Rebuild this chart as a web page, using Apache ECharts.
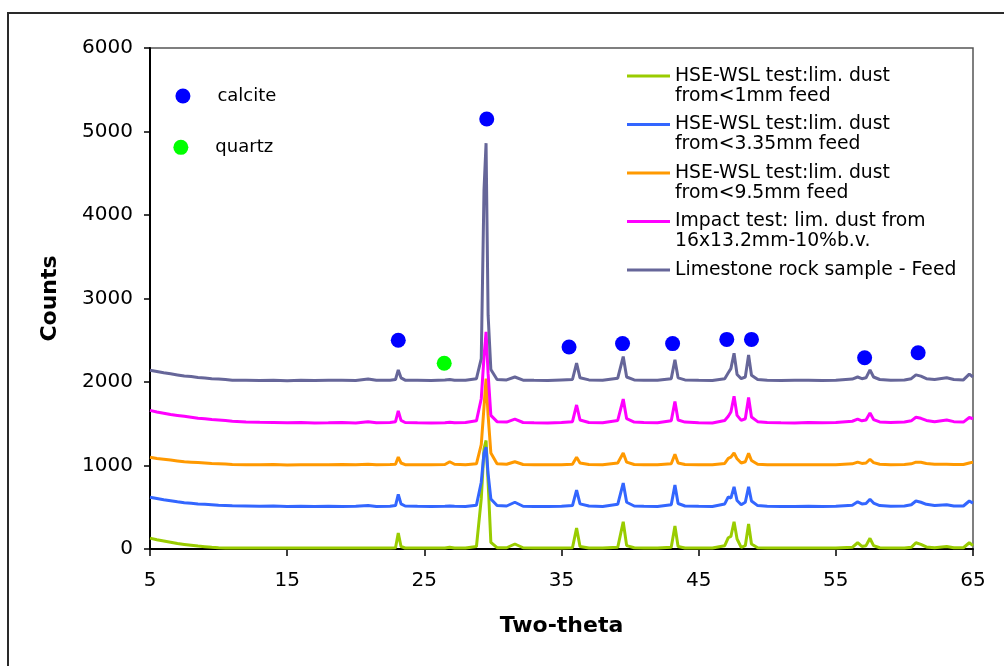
<!DOCTYPE html>
<html>
<head>
<meta charset="utf-8">
<script src="https://cdn.jsdelivr.net/npm/echarts@6/dist/echarts.min.js"></script>
<style>
html,body{margin:0;padding:0;background:#fff;}
#chart{width:1004px;height:666px;}
</style>
</head>
<body>
<div id="chart"></div>
<script>
// Two-theta sample positions (shared by all patterns)
var twoTheta = [
  5, 5.5, 6, 6.5, 7, 7.5, 8, 8.5, 9, 9.5,
  10, 10.5, 11, 12, 13, 14, 15, 16, 17, 18,
  19, 20, 20.9, 21.5, 22.5, 22.9, 23.1, 23.3, 23.6, 24.5,
  25.5, 26.5, 26.85, 27.2, 28, 28.8, 29.15, 29.35, 29.5, 29.65,
  29.85, 30.3, 31.0, 31.6, 32.2, 33, 34, 35, 35.8, 36.1,
  36.35, 37, 38, 39.1, 39.5, 39.75, 40.3, 41, 42, 43.0,
  43.27, 43.5, 44, 45, 46, 46.9, 47.16, 47.35, 47.58, 47.8,
  48.1, 48.4, 48.64, 48.85, 49.3, 50, 51, 52, 53, 54,
  55, 56.2, 56.59, 56.9, 57.2, 57.49, 57.75, 58.2, 59, 60,
  60.5, 60.84, 61.2, 61.6, 62.2, 63.08, 63.6, 64.3, 64.73, 65
];

var seriesNames = [
  'HSE-WSL test:lim. dust\nfrom<1mm feed',
  'HSE-WSL test:lim. dust\nfrom<3.35mm feed',
  'HSE-WSL test:lim. dust\nfrom<9.5mm feed',
  'Impact test: lim. dust from\n16x13.2mm-10%b.v.',
  'Limestone rock sample - Feed'
];

var dust1mm = [
  130, 110, 95, 80, 65, 55, 45, 35, 28, 20,
  15, 12, 12, 12, 12, 12, 12, 12, 12, 12,
  12, 12, 12, 12, 12, 15, 190, 30, 12, 12,
  12, 12, 20, 12, 12, 30, 600, 1200, 1300, 800,
  80, 15, 15, 60, 15, 12, 12, 12, 15, 250,
  30, 12, 12, 20, 327, 40, 15, 12, 12, 20,
  275, 30, 12, 12, 12, 40, 135, 150, 327, 120,
  20, 40, 300, 60, 15, 12, 12, 12, 12, 12,
  12, 20, 75, 30, 40, 128, 40, 15, 12, 12,
  20, 75, 55, 25, 15, 30, 15, 15, 75, 40
];

var dust335mm = [
  620, 605, 590, 578, 565, 555, 548, 540, 535, 530,
  525, 522, 518, 515, 512, 515, 510, 512, 508, 512,
  510, 512, 520, 510, 512, 520, 655, 540, 515, 512,
  510, 512, 515, 512, 510, 525, 800, 1150, 1220, 900,
  600, 520, 515, 560, 512, 510, 508, 512, 520, 705,
  540, 515, 510, 535, 790, 560, 515, 512, 510, 530,
  765, 545, 515, 512, 510, 540, 625, 610, 745, 580,
  530, 560, 745, 575, 520, 512, 510, 508, 512, 510,
  512, 525, 565, 540, 545, 595, 550, 520, 512, 515,
  530, 575, 560, 535, 520, 530, 515, 515, 575, 550
];

var dust95mm = [
  1100, 1085, 1075, 1065, 1055, 1045, 1040, 1035, 1030, 1025,
  1022, 1018, 1012, 1010, 1008, 1012, 1006, 1010, 1008, 1010,
  1012, 1008, 1015, 1010, 1012, 1015, 1100, 1030, 1010, 1008,
  1010, 1012, 1045, 1015, 1010, 1020, 1250, 1700, 2040, 1600,
  1150, 1020, 1015, 1045, 1012, 1010, 1008, 1010, 1015, 1100,
  1030, 1012, 1010, 1030, 1150, 1040, 1012, 1010, 1008, 1020,
  1135, 1030, 1012, 1010, 1008, 1025, 1085, 1100, 1150, 1080,
  1030, 1045, 1145, 1060, 1015, 1010, 1008, 1010, 1008, 1010,
  1010, 1020, 1040, 1025, 1030, 1075, 1035, 1015, 1010, 1012,
  1020, 1040, 1038, 1025, 1015, 1015, 1012, 1012, 1030, 1040
];

var impactDust = [
  1660, 1640, 1625, 1610, 1600, 1590, 1578, 1565, 1560, 1550,
  1545, 1538, 1530, 1522, 1518, 1515, 1512, 1515, 1510, 1512,
  1515, 1510, 1525, 1512, 1515, 1525, 1655, 1540, 1515, 1512,
  1510, 1512, 1518, 1512, 1515, 1535, 1800, 2300, 2600, 2100,
  1600, 1525, 1520, 1555, 1515, 1512, 1510, 1515, 1525, 1725,
  1545, 1515, 1512, 1540, 1795, 1560, 1520, 1515, 1512, 1535,
  1765, 1545, 1520, 1512, 1510, 1540, 1590, 1640, 1830, 1600,
  1540, 1560, 1815, 1580, 1525, 1515, 1512, 1510, 1515, 1512,
  1515, 1530, 1555, 1535, 1545, 1630, 1550, 1522, 1515, 1520,
  1535, 1578, 1565, 1540, 1525, 1545, 1525, 1520, 1575, 1560
];

var limestoneFeed = [
  2140, 2125, 2110, 2098, 2085, 2072, 2065, 2055, 2048, 2040,
  2035, 2030, 2020, 2022, 2018, 2020, 2016, 2022, 2018, 2020,
  2022, 2018, 2035, 2020, 2022, 2030, 2145, 2050, 2022, 2020,
  2018, 2025, 2030, 2022, 2020, 2040, 2280, 4300, 4860, 2800,
  2150, 2030, 2025, 2060, 2022, 2020, 2018, 2025, 2030, 2225,
  2050, 2025, 2020, 2045, 2305, 2060, 2025, 2022, 2020, 2040,
  2265, 2050, 2025, 2020, 2018, 2040, 2110, 2160, 2345, 2090,
  2040, 2060, 2325, 2080, 2030, 2022, 2018, 2020, 2022, 2018,
  2020, 2035, 2060, 2040, 2050, 2145, 2060, 2030, 2022, 2025,
  2040, 2085, 2070, 2040, 2030, 2050, 2030, 2025, 2095, 2060
];

var seriesColors = ['#99CC00', '#3366FF', '#FF9900', '#FF00FF', '#666699'];

// peak markers [two-theta, counts]
var calcitePeaks = [
  [23.1, 2500], [29.55, 5150], [35.55, 2420], [39.45, 2460], [43.1, 2460],
  [47.05, 2510], [48.85, 2510], [57.1, 2290], [61.0, 2350]
];
var quartzPeaks = [[26.45, 2225]];
var keyItems = [
  {name: 'calcite', value: [7.4, 5425]},
  {name: 'quartz', value: [7.25, 4810]}
];

var xTickValues = [5, 15, 25, 35, 45, 55, 65];

function pairs(xs, ys) {
  return xs.map(function (x, i) { return [x, ys[i]]; });
}

var patterns = [dust1mm, dust335mm, dust95mm, impactDust, limestoneFeed];

var series = patterns.map(function (ys, i) {
  return {
    name: seriesNames[i],
    type: 'line',
    data: pairs(twoTheta, ys),
    showSymbol: false,
    symbol: 'none',
    lineStyle: {width: 3, color: seriesColors[i]},
    itemStyle: {color: seriesColors[i]},
    z: 2 + i
  };
});

series.push({
  name: 'calcite',
  type: 'scatter',
  data: calcitePeaks,
  symbolSize: 15,
  itemStyle: {color: '#0000FF', opacity: 1},
  z: 10
});
series.push({
  name: 'quartz',
  type: 'scatter',
  data: quartzPeaks,
  symbolSize: 15,
  itemStyle: {color: '#00FF00', opacity: 1},
  z: 10
});
series.push({
  name: 'key',
  type: 'scatter',
  data: keyItems.map(function (k, i) {
    return {name: k.name, value: k.value, itemStyle: {color: i === 0 ? '#0000FF' : '#00FF00', opacity: 1}};
  }),
  symbolSize: 15,
  label: {
    show: true,
    position: 'right',
    distance: 27,
    formatter: '{b}',
    fontFamily: 'DejaVu Sans',
    fontSize: 18,
    color: '#000'
  },
  z: 10
});

var chart = echarts.init(document.getElementById('chart'), null, {renderer: 'canvas'});
chart.setOption({
  animation: false,
  backgroundColor: '#fff',
  textStyle: {fontFamily: 'DejaVu Sans'},
  grid: {
    left: 150, right: 31, top: 48, bottom: 117,
    show: true, borderColor: '#555', borderWidth: 1.5, backgroundColor: 'transparent'
  },
  legend: {
    orient: 'vertical',
    left: 627,
    top: 46,
    padding: 0,
    itemGap: -11.5,
    itemWidth: 43,
    itemHeight: 3,
    icon: 'rect',
    data: seriesNames,
    // leading blank line keeps the icon level with the first text line
    formatter: function (name) {
      return '\n' + name + (name.indexOf('\n') < 0 ? '\n ' : '');
    },
    textStyle: {fontFamily: 'DejaVu Sans', fontSize: 18.8, lineHeight: 20, color: '#000'},
    selectedMode: false
  },
  xAxis: {
    type: 'value',
    min: 5, max: 65,
    name: 'Two-theta',
    nameLocation: 'middle',
    nameGap: 66,
    nameTextStyle: {fontFamily: 'DejaVu Sans', fontSize: 22, fontWeight: 'bold', color: '#000'},
    axisLine: {show: true, onZero: false, lineStyle: {color: '#000', width: 2}},
    axisTick: {show: true, inside: false, length: 7, customValues: xTickValues, lineStyle: {color: '#000', width: 1.5}},
    axisLabel: {customValues: xTickValues, margin: 22, fontFamily: 'DejaVu Sans', fontSize: 20, color: '#000'},
    splitLine: {show: false}
  },
  yAxis: {
    type: 'value',
    min: 0, max: 6000, interval: 1000,
    name: 'Counts',
    nameLocation: 'middle',
    nameRotate: 90,
    nameGap: 89,
    nameTextStyle: {fontFamily: 'DejaVu Sans', fontSize: 22, fontWeight: 'bold', color: '#000'},
    axisLine: {show: true, lineStyle: {color: '#000', width: 2}},
    axisTick: {show: true, inside: false, length: 6, lineStyle: {color: '#000', width: 1.5}},
    axisLabel: {
      margin: 17, fontFamily: 'DejaVu Sans', fontSize: 20, color: '#000',
      formatter: function (v) { return String(v); }
    },
    splitLine: {show: false}
  },
  graphic: [{
    type: 'rect',
    shape: {x: 8, y: 13, width: 1100, height: 700},
    style: {fill: 'none', stroke: '#2a2a2a', lineWidth: 2},
    silent: true,
    z: 100
  }],
  series: series
});
</script>
</body>
</html>
